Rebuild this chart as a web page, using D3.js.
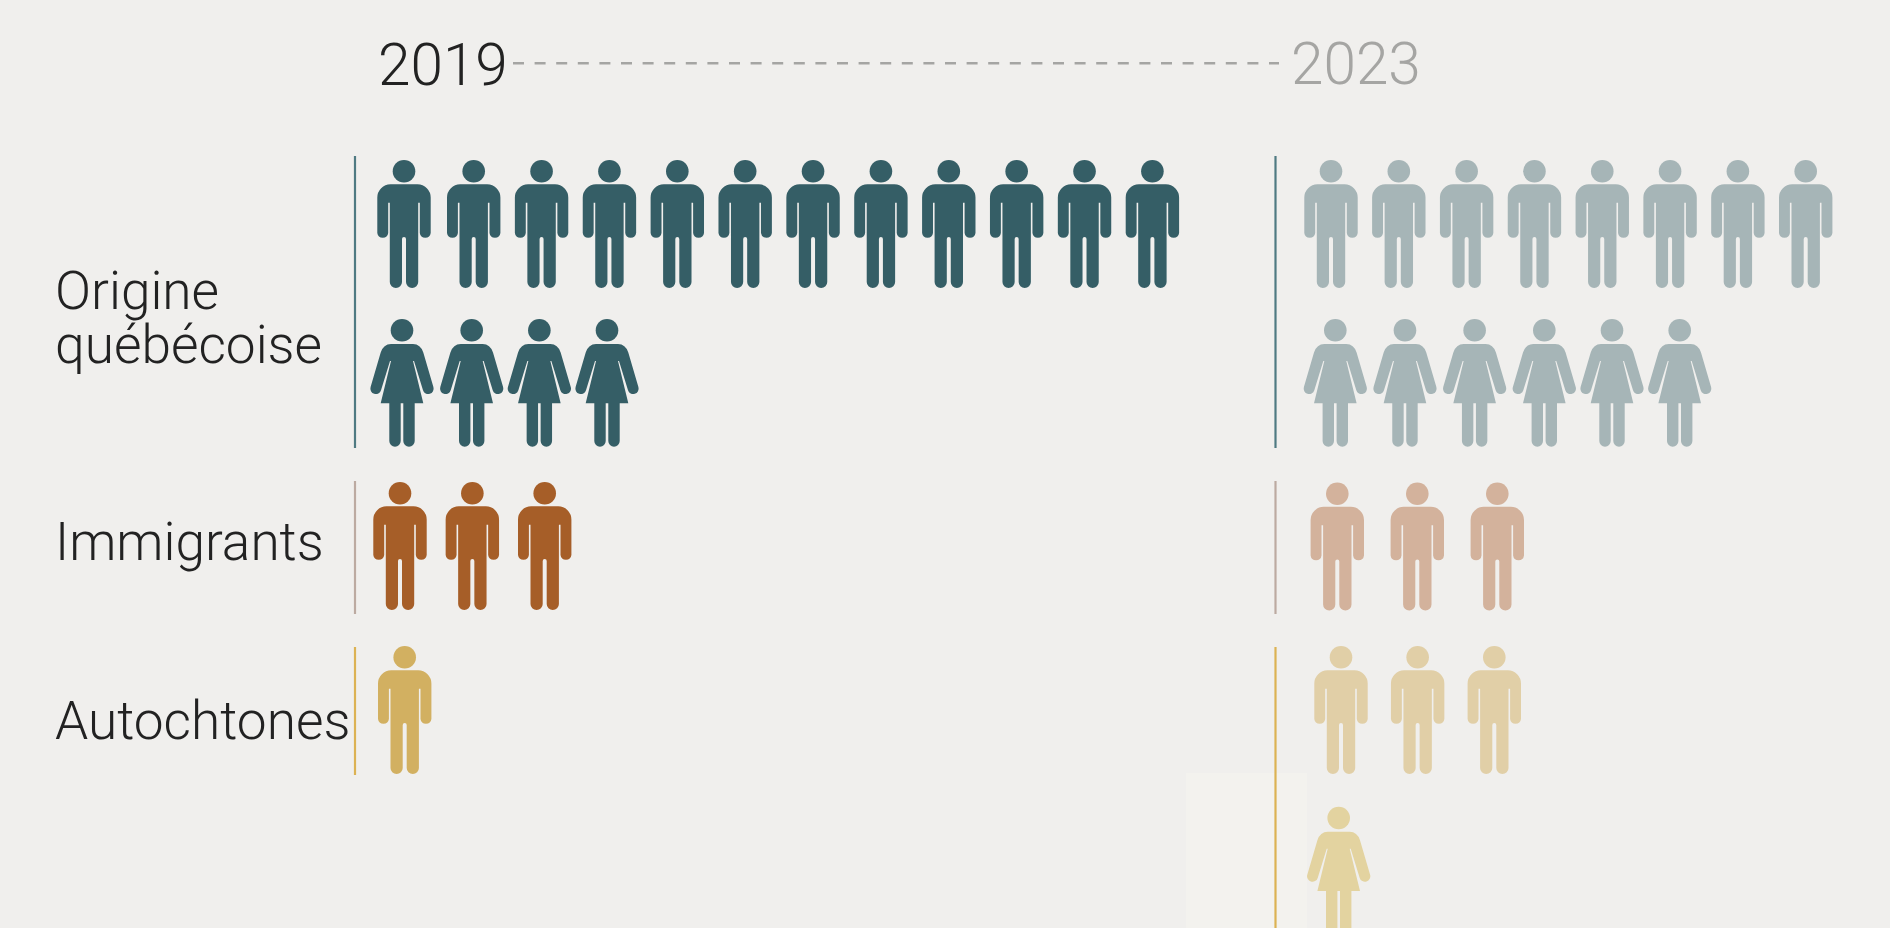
<!DOCTYPE html>
<html lang="fr">
<head>
<meta charset="utf-8">
<script src="https://cdnjs.cloudflare.com/ajax/libs/d3/7.9.0/d3.min.js"></script>
<style>
html,body{margin:0;padding:0;background:#f0efed;overflow:hidden}
svg{display:block}
text{font-family:Roboto,sans-serif;font-weight:300}
</style>
</head>
<body>
<div id="chart"></div>
<script>
// ---- data ----
const years = ["2019", "2023"];
const categories = ["Origine québécoise", "Immigrants", "Autochtones"];
const men2019 = [12, 3, 1];
const women2019 = [4, 0, 0];
const men2023 = [8, 3, 3];
const women2023 = [6, 0, 1];

// ---- layout ----
const W = 1890, H = 928;
const yearX = d3.scaleOrdinal().domain(years).range([355, 1275.5]);
const catBand = d3.scaleOrdinal().domain(categories).range([[156, 448], [481, 614], [647, 775]]);
// row: top of the head, then the horizontal scale's knots (index → x)
const rowAnchors = {
  "2019|0|m": {top: 160, dom: [0, 1, 11], rng: [404, 473.7, 1152.4]},
  "2019|0|f": {top: 319, dom: [0, 1, 3], rng: [402, 471.7, 607]},
  "2019|1|m": {top: 482, dom: [0, 2], rng: [400, 544.7]},
  "2019|2|m": {top: 646, dom: [0, 1], rng: [404.7, 404.7]},
  "2023|0|m": {top: 160, dom: [0, 7], rng: [1331, 1805.7]},
  "2023|0|f": {top: 319, dom: [0, 3, 5], rng: [1335.3, 1544.3, 1679.7]},
  "2023|1|m": {top: 482.5, dom: [0, 2], rng: [1337.3, 1497.3]},
  "2023|2|m": {top: 646, dom: [0, 2], rng: [1341, 1494.3]},
  "2023|2|f": {top: 806.7, dom: [0, 1], rng: [1338.7, 1338.7]}
};
const fills = {
  "2019": ["#355e66", "#a65e28", "#d2b061"],
  "2023": ["#a6b5b7", "#d3b29c", "#e1cfa7"]
};
const womanFill2023Auto = "#e3d3a0";
const lineFills = ["#4f7a82", "#bcaaa1", "#dcb253"];

const manPath = "M-13.5,24.3H13.5A13.2,13.2 0 0 1 26.7,37.5V73A5.5,5.5 0 0 1 15.8,73V42.7H14.2V122A6,6 0 0 1 2,122V79A2,2 0 0 0 -2,79V122A6,6 0 0 1 -14.2,122V42.7H-15.8V73A5.5,5.5 0 0 1 -26.7,73V37.5A13.2,13.2 0 0 1 -13.5,24.3Z";
const womanPath = "M-11,25H11Q18.5,25 21.3,33.5L31.4,68A5.4,5.4 0 0 1 21,71.2L12,42H11L21.3,84.3H12.7V122A5.7,5.7 0 0 1 1.3,122V84.3H-1.3V122A5.7,5.7 0 0 1 -12.7,122V84.3H-21.3L-11,42H-12L-21,71.2A5.4,5.4 0 0 1 -31.4,68L-21.3,33.5Q-18.5,25 -11,25Z";

const svg = d3.select("#chart").append("svg").attr("width", W).attr("height", H);
svg.append("rect").attr("width", W).attr("height", H).attr("fill", "#f0efed");

// pale panel behind the last divider
svg.append("rect").attr("x", 1186).attr("y", 773).attr("width", 121).attr("height", H - 773).attr("fill", "#f3f2ee");

// header
svg.append("text").attr("x", 378).attr("y", 85).attr("font-size", 58.5).attr("fill", "#222").text(years[0]);
svg.append("text").attr("x", 1291).attr("y", 84).attr("font-size", 58.5).attr("fill", "#a5a5a3").text(years[1]);
svg.append("line").attr("x1", 513).attr("x2", 1279).attr("y1", 63.3).attr("y2", 63.3)
  .attr("stroke", "#a5a5a3").attr("stroke-width", 2.6).attr("stroke-dasharray", "11 10.6");

// category labels
const labelLines = [["Origine", "québécoise"], ["Immigrants"], ["Autochtones"]];
const labelBaselines = [[309, 362.7], [560], [739]];
labelLines.forEach((ls, i) => ls.forEach((t, j) => {
  svg.append("text").attr("x", 55).attr("y", labelBaselines[i][j]).attr("font-size", 53.2).attr("fill", "#222").text(t);
}));

// dividers
years.forEach(y => categories.forEach((c, i) => {
  const [a, b] = catBand(c);
  svg.append("line").attr("x1", yearX(y)).attr("x2", yearX(y)).attr("y1", a)
    .attr("y2", (y === "2023" && i === 2) ? H : b)
    .attr("stroke", lineFills[i]).attr("stroke-width", 2.2);
}));

// pictograms
function drawRow(year, catIdx, gender, count) {
  if (!count) return;
  const {top, dom, rng} = rowAnchors[`${year}|${catIdx}|${gender}`];
  const x = d3.scaleLinear().domain(dom).range(rng);
  const fill = (year === "2023" && catIdx === 2 && gender === "f") ? womanFill2023Auto : fills[year][catIdx];
  const g = svg.append("g").selectAll("g").data(d3.range(count)).join("g")
    .attr("transform", d => `translate(${x(d)},${top})`).attr("fill", fill);
  g.append("circle").attr("cx", 0).attr("cy", 11.3).attr("r", 11.3);
  g.append("path").attr("d", gender === "m" ? manPath : womanPath);
}
categories.forEach((c, i) => {
  drawRow("2019", i, "m", men2019[i]);
  drawRow("2019", i, "f", women2019[i]);
  drawRow("2023", i, "m", men2023[i]);
  drawRow("2023", i, "f", women2023[i]);
});
</script>
</body>
</html>
